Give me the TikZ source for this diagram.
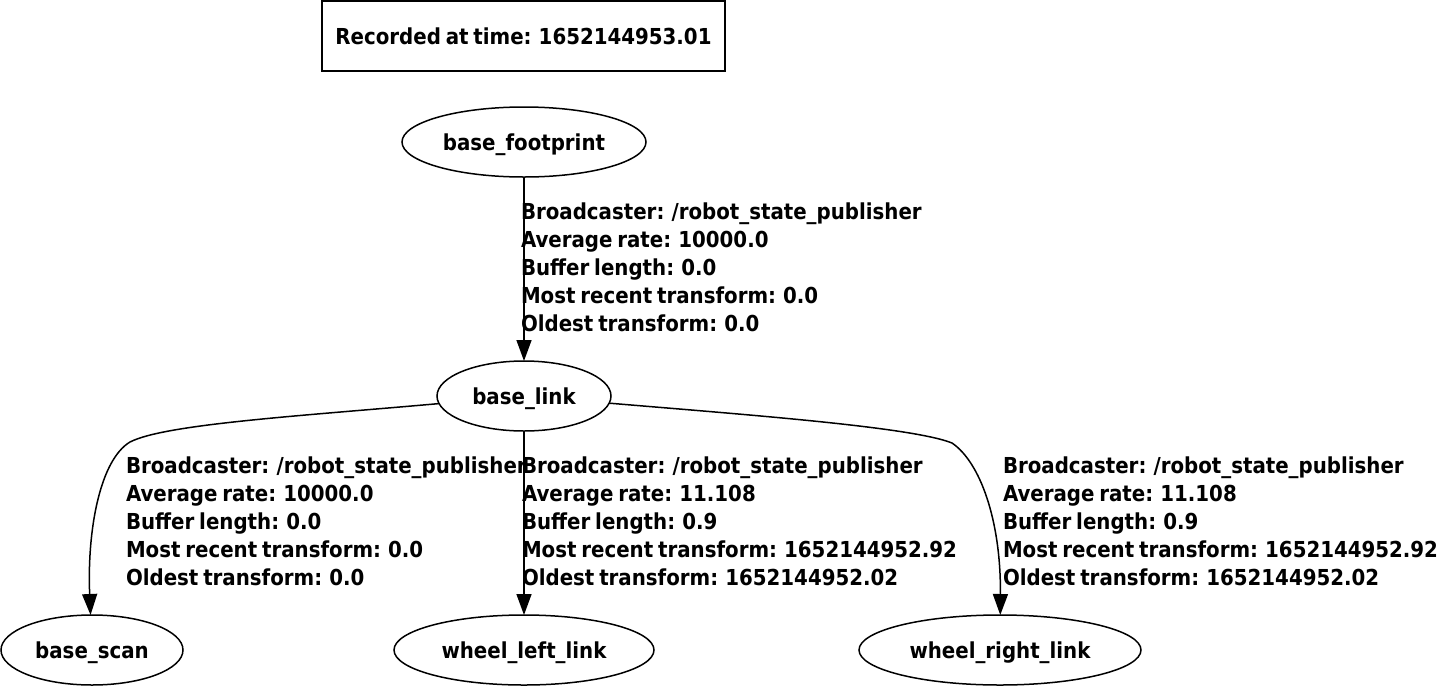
\documentclass[tikz,border=0pt]{standalone}
\usepackage{fontspec}
\setmainfont{DejaVu Sans Condensed}[BoldFont={DejaVu Sans Condensed Bold},WordSpace=0.7]
\usetikzlibrary{arrows.meta,shapes.geometric}
\begin{document}
\begin{tikzpicture}[x=1pt,y=-1pt,
  every node/.style={font=\fontsize{22}{28}\selectfont\bfseries, outer sep=0pt},
  frame/.style={ellipse, draw, line width=1.5pt, inner sep=0pt, minimum height=70pt, text height=20pt, text depth=4pt},
  titlebox/.style={draw, line width=1.5pt, inner sep=0pt, minimum width=403pt, minimum height=70pt, text height=20pt, text depth=4pt},
  lbl/.style={align=left, anchor=north west, inner sep=0pt},
  arr/.style={-{Triangle[length=21pt,width=15pt]}, line width=1.5pt}]
\useasboundingbox (0,0) rectangle (1438,686);
\node[titlebox] (title) at (523.5,36) {Recorded at time: 1652144953.01};
\node[frame, minimum width=244pt] (bf) at (524,142) {base\_footprint};
\node[frame, minimum width=174pt] (bl) at (524,396) {base\_link};
\node[frame, minimum width=182pt] (bs) at (92,650) {base\_scan};
\node[frame, minimum width=260pt] (wl) at (524,650) {wheel\_left\_link};
\node[frame, minimum width=282pt] (wr) at (1000,650) {wheel\_right\_link};
\coordinate (k1) at (130,442);
\coordinate (k2) at (952,443);
\draw[arr] (bf) -- (bl);
\draw[arr] (bl) -- (wl);
\draw[arr] (bl) .. controls (300,416) and (165,424) .. (k1) .. controls (100,460) and (87,530) .. (bs);
\draw[arr] (bl) .. controls (750,415) and (912,427) .. (k2) .. controls (980,462) and (1001,520) .. (wr);
\node[lbl] (l1) at (521,203) {Broadcaster: /robot\_state\_publisher\\Average rate: 10000.0\\Buffer length: 0.0\\Most recent transform: 0.0\\Oldest transform: 0.0};
\node[lbl] (l2) at (126,457) {Broadcaster: /robot\_state\_publisher\\Average rate: 10000.0\\Buffer length: 0.0\\Most recent transform: 0.0\\Oldest transform: 0.0};
\node[lbl] (l3) at (522,457) {Broadcaster: /robot\_state\_publisher\\Average rate: 11.108\\Buffer length: 0.9\\Most recent transform: 1652144952.92\\Oldest transform: 1652144952.02};
\node[lbl] (l4) at (1003,457) {Broadcaster: /robot\_state\_publisher\\Average rate: 11.108\\Buffer length: 0.9\\Most recent transform: 1652144952.92\\Oldest transform: 1652144952.02};
\end{tikzpicture}
\end{document}
